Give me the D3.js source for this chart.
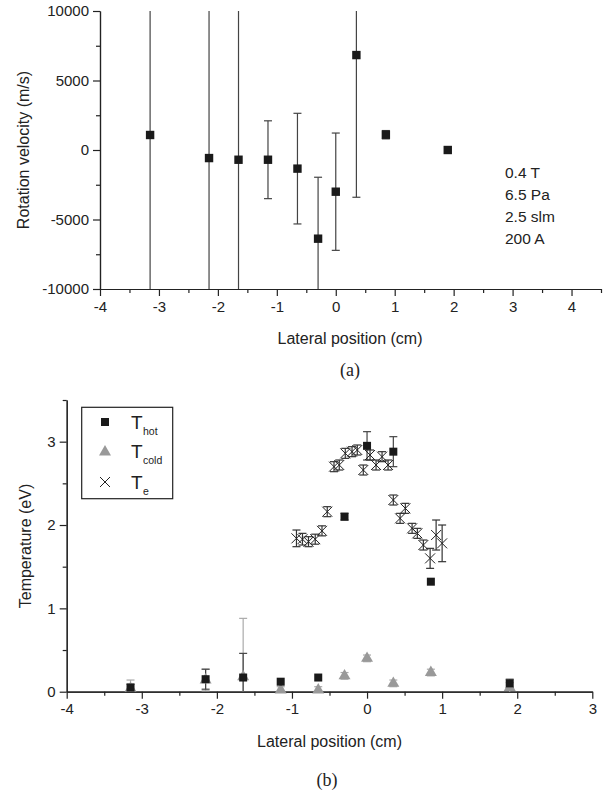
<!DOCTYPE html>
<html>
<head>
<meta charset="utf-8">
<script src="https://cdn.jsdelivr.net/npm/d3@7"></script>
<style>
  body { margin: 0; background: #fff; }
  text { font-family: "Liberation Sans", Arial, sans-serif; fill: #222; }
  .serif { font-family: "Liberation Serif", "DejaVu Serif", serif; }
</style>
</head>
<body>
<div id="viz"></div>
<script>
// (a) rotation velocity
var velX   = [-3.15, -2.15, -1.65, -1.15, -0.65, -0.3, 0, 0.35, 0.85, 1.9];
var velY   = [1080, -580, -700, -700, -1340, -6380, -3000, 6830, 1100, 0];
var velErr = [15000, 15000, 15000, 2800, 3980, 4420, 4220, 10230, 300, 0];
var notes  = ["0.4 T", "6.5 Pa", "2.5 slm", "200 A"];

// (b) temperatures
var hotX   = [-3.15, -2.15, -1.65, -1.15, -0.65, -0.3, 0, 0.35, 0.85, 1.9];
var hotY   = [0.05, 0.15, 0.17, 0.12, 0.17, 2.10, 2.95, 2.88, 1.32, 0.10];
var hotErr = [0.04, 0.12, 0.29, 0, 0, 0.04, 0.17, 0.18, 0, 0.05];

var coldX   = [-3.15, -2.15, -1.65, -1.15, -0.65, -0.3, 0, 0.35, 0.85, 1.9];
var coldY   = [0.04, 0.14, 0.18, 0.02, 0.02, 0.19, 0.40, 0.10, 0.23, 0.05];
var coldErr = [0.10, 0.13, 0.70, 0.04, 0.04, 0.04, 0.04, 0.04, 0.04, 0.06];

var teX   = [-0.94, -0.86, -0.78, -0.69, -0.60, -0.53, -0.44, -0.37, -0.29, -0.20, -0.13, -0.05, 0.04,
             0.12, 0.20, 0.28, 0.35, 0.44, 0.51, 0.60, 0.67, 0.75, 0.84, 0.92, 1.00];
var teY   = [1.84, 1.83, 1.80, 1.83, 1.93, 2.16, 2.70, 2.72, 2.86, 2.88, 2.90, 2.66, 2.84,
             2.72, 2.82, 2.72, 2.30, 2.08, 2.20, 1.96, 1.90, 1.76, 1.60, 1.88, 1.78];
var teErr = [0.10, 0.07, 0.06, 0.06, 0.06, 0.06, 0.06, 0.06, 0.06, 0.06, 0.06, 0.06, 0.06,
             0.06, 0.06, 0.06, 0.06, 0.06, 0.06, 0.06, 0.06, 0.06, 0.12, 0.18, 0.22];

var legendNames = [["T", "hot"], ["T", "cold"], ["T", "e"]];

var svg = d3.select("#viz").append("svg")
    .attr("width", 609)
    .attr("height", 796);

function zip(xs, ys, es) {
    return xs.map(function(x, i) { return {x: x, y: ys[i], e: es[i]}; });
}

// plain hyphen minus, like the original
var fmt = function(d) { return String(d); };

function drawAxes(g, x, y, opt) {
    g.append("g").attr("transform", "translate(0," + y.range()[0] + ")")
        .call(d3.axisBottom(x).tickValues(opt.xMajor).tickSize(7).tickSizeOuter(0).tickPadding(5)
            .tickFormat(fmt));
    g.append("g").attr("transform", "translate(0," + y.range()[0] + ")")
        .call(d3.axisBottom(x).tickValues(opt.xMinor).tickSize(4).tickSizeOuter(0).tickFormat(""));
    g.append("g").attr("transform", "translate(" + x.range()[0] + ",0)")
        .call(d3.axisLeft(y).tickValues(opt.yMajor).tickSize(7).tickSizeOuter(0).tickPadding(4)
            .tickFormat(fmt));
    g.append("g").attr("transform", "translate(" + x.range()[0] + ",0)")
        .call(d3.axisLeft(y).tickValues(opt.yMinor).tickSize(4).tickSizeOuter(0).tickFormat(""));
    g.selectAll(".domain, .tick line").attr("stroke", "#222").attr("stroke-width", 1.2);
    g.selectAll(".tick text").style("font-family", "Liberation Sans, Arial, sans-serif")
        .style("font-size", "15px").attr("fill", "#222");
}

function errBars(g, data, x, y, color, capW) {
    var lo = y.domain()[0], hi = y.domain()[1];
    var eb = g.selectAll(null).data(data.filter(function(d) { return d.e > 0; }))
        .enter().append("g").attr("stroke", color).attr("stroke-width", 1.2);
    eb.append("line")
        .attr("x1", function(d) { return x(d.x); })
        .attr("x2", function(d) { return x(d.x); })
        .attr("y1", function(d) { return y(Math.max(lo, d.y - d.e)); })
        .attr("y2", function(d) { return y(Math.min(hi, d.y + d.e)); });
    eb.filter(function(d) { return d.y + d.e <= hi; }).append("line")
        .attr("x1", function(d) { return x(d.x) - capW; })
        .attr("x2", function(d) { return x(d.x) + capW; })
        .attr("y1", function(d) { return y(d.y + d.e); })
        .attr("y2", function(d) { return y(d.y + d.e); });
    eb.filter(function(d) { return d.y - d.e >= lo; }).append("line")
        .attr("x1", function(d) { return x(d.x) - capW; })
        .attr("x2", function(d) { return x(d.x) + capW; })
        .attr("y1", function(d) { return y(d.y - d.e); })
        .attr("y2", function(d) { return y(d.y - d.e); });
}

// ---------- (a) ----------
var xA = d3.scaleLinear().domain([-4, 4.5]).range([100, 601]);
var yA = d3.scaleLinear().domain([-10000, 10000]).range([289, 11]);
var gA = svg.append("g");

drawAxes(gA, xA, yA, {
    xMajor: d3.range(-4, 4.01, 1), xMinor: d3.range(-3.5, 4.51, 1),
    yMajor: [-10000, -5000, 0, 5000, 10000], yMinor: [-7500, -2500, 2500, 7500]
});

var velData = zip(velX, velY, velErr);
errBars(gA, velData, xA, yA, "#444", 4);

gA.selectAll(".sq").data(velData).enter().append("rect")
    .attr("x", function(d) { return xA(d.x) - 4.2; })
    .attr("y", function(d) { return yA(d.y) - 4.2; })
    .attr("width", 8.4).attr("height", 8.4)
    .attr("fill", "#1a1a1a");

gA.selectAll(".note").data(notes).enter().append("text")
    .attr("x", 505)
    .attr("y", function(d, i) { return 178 + i * 22; })
    .style("font-size", "15.5px")
    .text(function(d) { return d; });

gA.append("text").attr("x", 350).attr("y", 344).attr("text-anchor", "middle")
    .style("font-size", "16px").text("Lateral position (cm)");
gA.append("text").attr("transform", "translate(29,150) rotate(-90)").attr("text-anchor", "middle")
    .style("font-size", "16px").text("Rotation velocity (m/s)");
gA.append("text").attr("class", "serif").attr("x", 350).attr("y", 376).attr("text-anchor", "middle")
    .style("font-size", "18px").text("(a)");

// ---------- (b) ----------
var xB = d3.scaleLinear().domain([-4, 3]).range([66.7, 592.3]);
var yB = d3.scaleLinear().domain([0, 3.5]).range([691.7, 400]);
var gB = svg.append("g");

drawAxes(gB, xB, yB, {
    xMajor: d3.range(-4, 3.01, 1), xMinor: d3.range(-3.5, 2.51, 1),
    yMajor: [0, 1, 2, 3], yMinor: [0.5, 1.5, 2.5, 3.5]
});

var coldData = zip(coldX, coldY, coldErr);
var hotData = zip(hotX, hotY, hotErr);
var teData = zip(teX, teY, teErr);

errBars(gB, coldData, xB, yB, "#aaa", 4);
errBars(gB, hotData, xB, yB, "#444", 4);
errBars(gB, teData, xB, yB, "#333", 4);

var tri = d3.symbol().type(d3.symbolTriangle).size(62);
gB.selectAll(".tri").data(coldData).enter().append("path")
    .attr("d", tri)
    .attr("transform", function(d) { return "translate(" + xB(d.x) + "," + yB(d.y) + ")"; })
    .attr("fill", "#999");

gB.selectAll(".sq").data(hotData).enter().append("rect")
    .attr("x", function(d) { return xB(d.x) - 4; })
    .attr("y", function(d) { return yB(d.y) - 4; })
    .attr("width", 8).attr("height", 8)
    .attr("fill", "#1a1a1a");

var cross = "M-5,-5L5,5M-5,5L5,-5";
gB.selectAll(".x").data(teData).enter().append("path")
    .attr("d", cross)
    .attr("transform", function(d) { return "translate(" + xB(d.x) + "," + yB(d.y) + ")"; })
    .attr("stroke", "#222").attr("stroke-width", 1).attr("fill", "none");

// legend
var leg = gB.append("g");
leg.append("rect").attr("x", 81.7).attr("y", 407.3).attr("width", 91).attr("height", 91.4)
    .attr("fill", "#fff").attr("stroke", "#222").attr("stroke-width", 1.2);
var rowY = [422, 451, 482];
leg.append("rect").attr("x", 101).attr("y", rowY[0] - 4).attr("width", 8).attr("height", 8).attr("fill", "#1a1a1a");
leg.append("path").attr("d", tri).attr("transform", "translate(105," + (rowY[1] + 1) + ")").attr("fill", "#999");
leg.append("path").attr("d", cross).attr("transform", "translate(105," + rowY[2] + ")")
    .attr("stroke", "#222").attr("fill", "none");
legendNames.forEach(function(n, i) {
    leg.append("text").attr("x", 131).attr("y", rowY[i] + 6.5).style("font-size", "19px").text(n[0]);
    leg.append("text").attr("x", 143).attr("y", rowY[i] + 13).style("font-size", "10.5px").text(n[1]);
});

gB.append("text").attr("x", 329.5).attr("y", 747).attr("text-anchor", "middle")
    .style("font-size", "16px").text("Lateral position (cm)");
gB.append("text").attr("transform", "translate(31,546) rotate(-90)").attr("text-anchor", "middle")
    .style("font-size", "16px").text("Temperature (eV)");
gB.append("text").attr("class", "serif").attr("x", 327).attr("y", 786).attr("text-anchor", "middle")
    .style("font-size", "18px").text("(b)");
</script>
</body>
</html>
